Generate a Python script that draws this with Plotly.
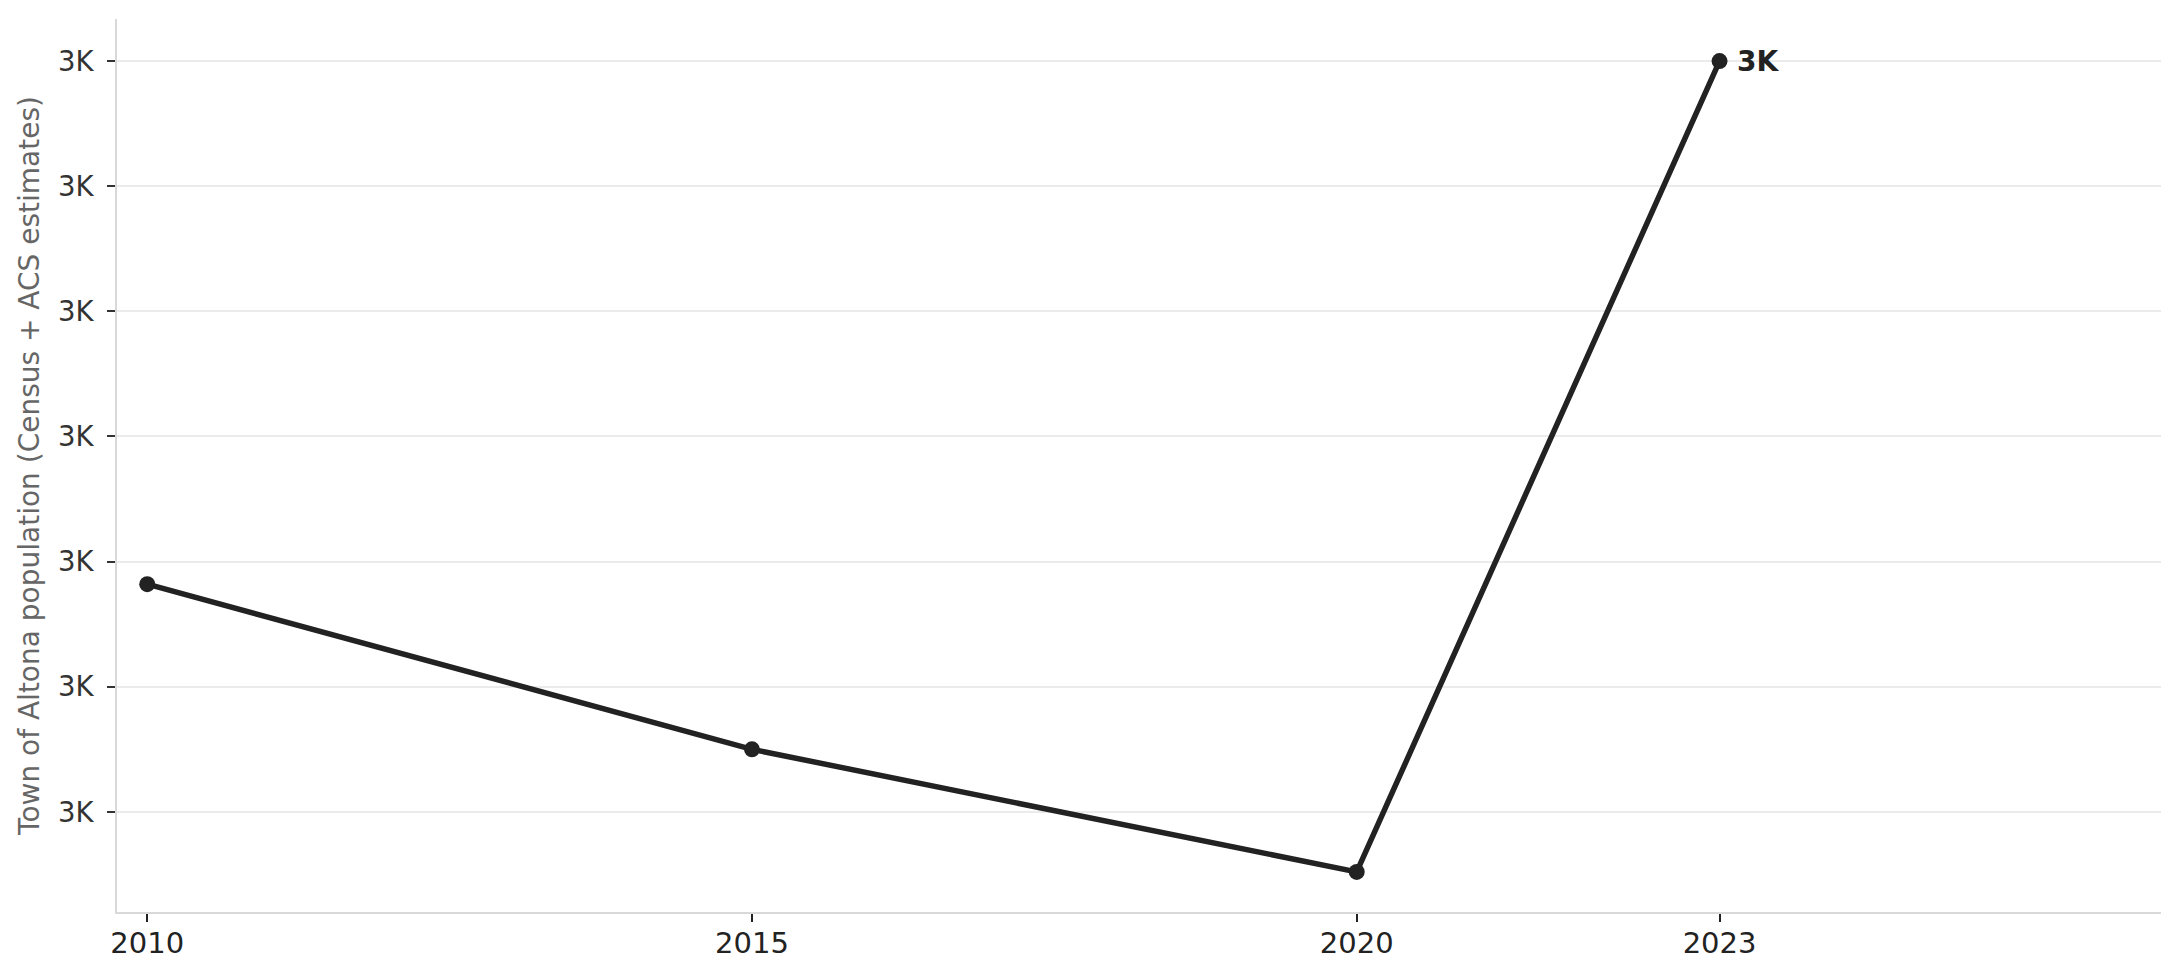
import plotly.graph_objects as go

years = [2010, 2015, 2020, 2023]
population = [2791, 2725, 2676, 3000]
y_tickvals = [2700, 2750, 2800, 2850, 2900, 2950, 3000]
y_ticktext = ["3K", "3K", "3K", "3K", "3K", "3K", "3K"]
x_tickvals = [2010, 2015, 2020, 2023]
last_label = "3K"
y_title = "Town of Altona population (Census + ACS estimates)"

fig = go.Figure()
fig.add_trace(go.Scatter(
    x=years, y=population, mode="lines+markers",
    line=dict(color="#222222", width=5.5),
    marker=dict(color="#222222", size=16),
    showlegend=False, hoverinfo="skip",
))
fig.add_annotation(
    x=years[-1], y=population[-1], text="<b>" + last_label + "</b>",
    showarrow=False, xanchor="left", yanchor="middle", xshift=15,
    font=dict(family="DejaVu Sans", size=28, color="#222222"),
)
fig.update_layout(
    width=2180, height=980,
    margin=dict(l=109, r=27, t=11, b=76),
    paper_bgcolor="white", plot_bgcolor="white",
    font=dict(family="DejaVu Sans", color="#333333"),
)
fig.update_xaxes(
    range=[2009.75, 2026.65],
    tickvals=x_tickvals, ticktext=[str(v) for v in x_tickvals],
    showgrid=False, zeroline=False,
    showline=True, linecolor="#d9d9d9", linewidth=2,
    ticks="outside", ticklen=8, tickwidth=2, tickcolor="#222222",
    ticklabelstandoff=-4,
    tickfont=dict(family="DejaVu Sans", size=29, color="#222222"),
)
fig.update_yaxes(
    range=[2660, 3016.8],
    tickvals=y_tickvals, ticktext=y_ticktext,
    showgrid=True, gridcolor="#ebebeb", gridwidth=2, zeroline=False,
    showline=True, linecolor="#d9d9d9", linewidth=2,
    ticks="outside", ticklen=8, tickwidth=2, tickcolor="#333333",
    ticklabelstandoff=8,
    tickfont=dict(family="DejaVu Sans", size=27.5, color="#333333"),
    title=dict(text=y_title, font=dict(family="DejaVu Sans", size=28, color="#666666"), standoff=10),
)
fig.write_html("out.html")
